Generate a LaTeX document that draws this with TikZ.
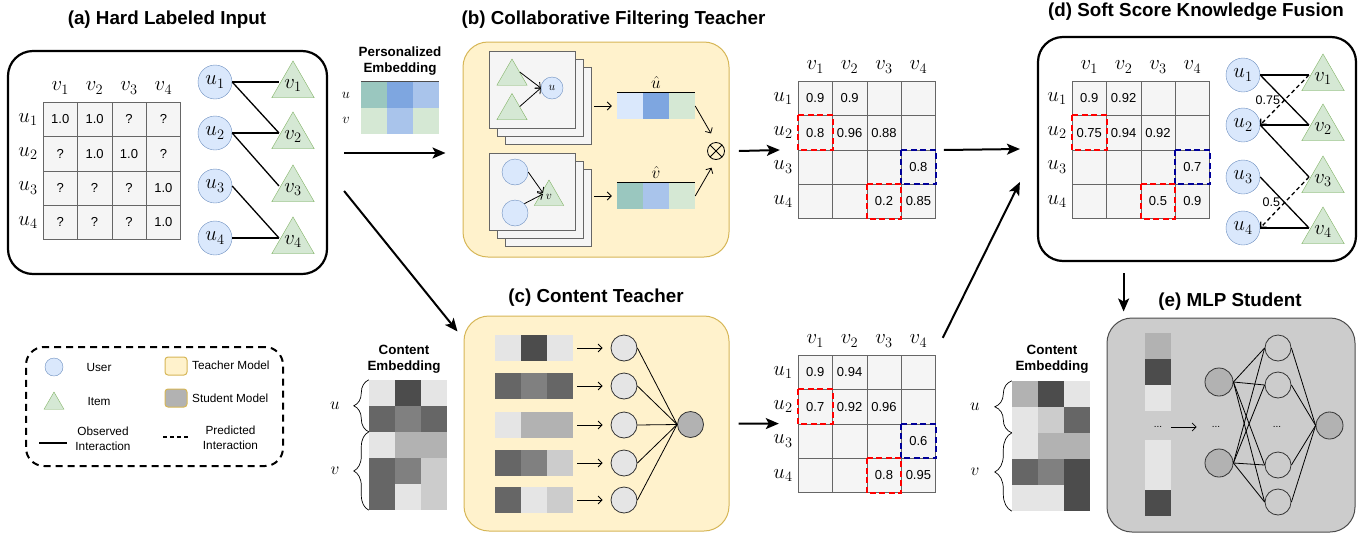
\documentclass[tikz,border=0pt]{standalone}
\usepackage[no-math]{fontspec}
\setmainfont{Liberation Sans}
\usetikzlibrary{shapes.geometric, arrows.meta, calc, decorations.pathreplacing}

\definecolor{userfill}{HTML}{DAE8FC}
\definecolor{userline}{HTML}{6C8EBF}
\definecolor{itemfill}{HTML}{D5E8D4}
\definecolor{itemline}{HTML}{82B366}
\definecolor{teachfill}{HTML}{FFF2CC}
\definecolor{teachline}{HTML}{D6B656}
\definecolor{cellfill}{HTML}{F5F5F5}
\definecolor{cellline}{HTML}{666666}
\definecolor{hlred}{HTML}{FF0000}
\definecolor{hlblue}{HTML}{000099}
\definecolor{embteal}{HTML}{9AC7BF}
\definecolor{embblue}{HTML}{7EA6E0}
\definecolor{emblight}{HTML}{A9C4EB}

\newcommand{\pxsize}[2]{\fontsize{#1}{#2}\selectfont}

% 4x4 score grid: name, left, top, values row by row
\newcommand{\scoregrid}[4]{%
  \foreach \val [count=\k from 0] in {#4} {
    \pgfmathtruncatemacro{\ri}{div(\k,4)+1}
    \pgfmathtruncatemacro{\ci}{mod(\k,4)+1}
    \node[cell] (#1-\ri-\ci) at ({#2+34.4*\ci-17.2},{#3+34.4*\ri-17.2}) {\val};
  }
  \foreach \i in {1,...,4} {
    \node[mlabel] (#1-v\i) at ({#2+34.4*\i-17.2},{#3-14}) {$v_\i$};
    \node[mlabel] (#1-u\i) at ({#2-15},{#3+34.4*\i-17.2}) {$u_\i$};
  }
}
% one row of embedding cells: left, top, colours
\newcommand{\embstrip}[3]{%
  \foreach \col [count=\j from 0] in {#3}
    \fill[fill=\col] ({#1+26*\j},{#2}) rectangle ++(26,26);
}

\begin{document}
\begin{tikzpicture}[x=1pt, y=-1pt,
    title/.style={font=\bfseries\pxsize{18.8}{20}},
    head/.style={font=\bfseries\pxsize{13.4}{16.5}, align=center, inner sep=0pt},
    mlabel/.style={font=\pxsize{19.5}{19.5}, inner sep=0pt},
    cell/.style={draw=cellline, fill=cellfill, minimum size=34.4pt, inner sep=0pt, font=\pxsize{13}{13}},
    user/.style={circle, draw=userline, fill=userfill, minimum size=34pt, inner sep=0pt, font=\pxsize{19.5}{19.5}},
    item/.style={regular polygon, regular polygon sides=3, draw=itemline, fill=itemfill, minimum size=46.5pt, inner sep=0pt, font=\pxsize{19.5}{19.5}},
    panel/.style={draw, line width=2.2pt, rounded corners=25pt},
    teacher/.style={draw=teachline, fill=teachfill, line width=1pt, rounded corners=25pt},
    card/.style={draw=cellline, fill=cellfill, line width=0.8pt, minimum width=86pt, minimum height=77pt},
    neuron/.style={circle, draw=black!80, line width=0.8pt, minimum size=26pt, inner sep=0pt},
    vecbox/.style={minimum width=78pt, minimum height=26pt, inner sep=0pt},
    link/.style={line width=1.3pt},
    pred/.style={line width=1.3pt, dash pattern=on 4pt off 3pt, -{Straight Barb[length=4pt,width=8pt]}},
    flow/.style={line width=0.8pt, -{Straight Barb[length=4pt,width=8pt]}},
    bigflow/.style={line width=2pt, -{Stealth[length=13pt,width=11pt,inset=3pt]}},
    redbox/.style={draw=hlred, line width=2pt, dash pattern=on 6pt off 3.5pt},
    bluebox/.style={draw=hlblue, line width=2pt, dash pattern=on 6pt off 3.5pt},
    brace/.style={decorate, decoration={brace, amplitude=15pt}, line width=0.7pt},
    legend/.style={font=\pxsize{11.8}{15}, align=center, inner sep=0pt},
    dots/.style={font=\pxsize{10}{10}, inner sep=1pt}]
\useasboundingbox (0,0) rectangle (1372,536);

%% (a) hard labels
\node[title] (ta) at (167,20) {(a) Hard Labeled Input};
\node[panel, minimum width=319pt, minimum height=223pt] (pa) at (167.5,162.5) {};
\scoregrid{hd}{43}{102}{1.0,1.0,?,?,?,1.0,1.0,?,?,?,?,1.0,?,?,?,1.0}
\foreach \i/\y in {1/82,2/133,3/186,4/238} {
  \node[user] (au\i) at (215,\y) {$u_\i$};
  \node[item] (av\i) at (293,\y+3.5) {$v_\i$};
}
\foreach \u/\v in {1/1,1/2,2/2,2/3,3/4,4/4}
  \draw[link] (au\u.east) -- ([xshift=-14pt,yshift=3.5pt]av\v.center);

%% personalized embedding
\node[head] (pt) at (400,61) {Personalized\\Embedding};
\embstrip{361}{82}{embteal,embblue,emblight}
\embstrip{361}{108}{itemfill,emblight,itemfill}
\node[vecbox, minimum height=52pt] (pemb) at (400,108) {};
\draw[black!70, line width=0.8pt] (pemb.north west) -- (pemb.north east);
\node[mlabel, font=\pxsize{15.5}{15.5}] (pu) at (346,95) {$u$};
\node[mlabel, font=\pxsize{15.5}{15.5}] (pv) at (346,120) {$v$};

%% (b) CF teacher
\node[title] (tb) at (613.5,20) {(b) Collaborative Filtering Teacher};
\node[teacher, minimum width=266pt, minimum height=215pt] (pb) at (596,149.5) {};
\foreach \k in {3,2,1} {
  \node[card] (ucard\k) at ({524+8*\k},{81.5+8*\k}) {};
  \node[card] (vcard\k) at ({524+8*\k},{184+8*\k}) {};
}
\node[item, minimum size=35pt] (ut1) at (512,76.5) {};
\node[item, minimum size=35pt] (ut2) at (512,111) {};
\node[user, minimum size=22pt, font=\pxsize{12.5}{12.5}] (uc) at (552,88) {$u$};
\draw[flow] (ut1.side 3) -- (uc.west);
\draw[flow] (ut2.side 3) -- (uc.west);
\node[user, minimum size=26pt] (vc1) at (515,172) {};
\node[user, minimum size=26pt] (vc2) at (515,213) {};
\node[item, minimum size=34pt, font=\pxsize{12.5}{12.5}] (vt) at (549,197) {$v$};
\draw[flow] (vc1.east) -- ([xshift=-6pt,yshift=4pt]vt.center);
\draw[flow] (vc2.45) -- ([xshift=-6pt,yshift=3pt]vt.center);

\node[mlabel, font=\pxsize{16}{16}] (uhl) at (656,82) {$\hat{u}$};
\embstrip{617}{93}{userfill,embblue,itemfill}
\node[vecbox] (uhat) at (656,106) {};
\draw[line width=0.8pt] (uhat.north west) -- (uhat.north east);
\node[mlabel, font=\pxsize{16}{16}] (vhl) at (656,172) {$\hat{v}$};
\embstrip{617}{183}{embteal,emblight,itemfill}
\node[vecbox] (vhat) at (656,196) {};
\draw[line width=0.8pt] (vhat.north west) -- (vhat.north east);
\draw[flow, shorten <=3pt, shorten >=5pt] (ucard3.east |- uhat.west) -- (uhat.west);
\draw[flow, shorten <=3pt, shorten >=5pt] (vcard3.east |- vhat.west) -- (vhat.west);

\node[circle, draw, line width=0.8pt, minimum size=17pt, inner sep=0pt,
  path picture={\draw (path picture bounding box.north west) -- (path picture bounding box.south east)
                      (path picture bounding box.north east) -- (path picture bounding box.south west);}] (mul) at (716,151) {};
\draw[flow, shorten >=10pt] (uhat.east) -- (mul.north);
\draw[flow, shorten >=9pt] (vhat.east) -- (mul.south);

%% CF scores
\scoregrid{cf}{798}{81}{0.9,0.9,{},{},0.8,0.96,0.88,{},{},{},{},0.8,{},{},0.2,0.85}
\draw[redbox] (cf-2-1.north west) rectangle (cf-2-1.south east);
\draw[bluebox] (cf-3-4.north west) rectangle (cf-3-4.south east);
\draw[redbox] (cf-4-3.north west) rectangle (cf-4-3.south east);

%% legend
\node[draw, line width=2pt, dash pattern=on 7pt off 5pt, rounded corners=18pt, minimum width=257pt, minimum height=119pt] (lg) at (154.5,406.5) {};
\node[user, minimum size=18pt] (lgu) at (54,367) {};
\node[legend] (lgut) at (99,367) {User};
\node[item, minimum size=23pt] (lgi) at (54,403.5) {};
\node[legend] (lgit) at (99,401) {Item};
\draw[line width=1.3pt] (39,443) -- (67,443);
\node[legend] (lgo) at (103,438.5) {Observed\\Interaction};
\node[teacher, rounded corners=3pt, minimum width=22pt, minimum height=18pt] (lgt) at (176,366) {};
\node[legend, anchor=west] (lgtt) at (192,365) {Teacher Model};
\node[draw=teachline, fill=black!30, line width=1pt, rounded corners=3pt, minimum width=22pt, minimum height=18pt] (lgs) at (176,398) {};
\node[legend, anchor=west] (lgst) at (192,398) {Student Model};
\draw[line width=1.3pt, dash pattern=on 4pt off 3pt] (163,437) -- (189,437);
\node[legend] (lgp) at (230.5,438) {Predicted\\Interaction};

%% content embedding, teacher side
\node[head] (cet) at (404,359) {Content\\Embedding};
\embstrip{369}{380}{black!10,black!70,black!10}
\embstrip{369}{406}{black!60,black!50,black!60}
\embstrip{369}{432}{black!10,black!30,black!30}
\embstrip{369}{458}{black!60,black!50,black!20}
\embstrip{369}{484}{black!60,black!10,black!20}
\node[vecbox, minimum height=130pt] (cemb) at (408,445) {};
\draw[brace] ([yshift=-52pt]cemb.north west) -- (cemb.north west);
\draw[brace] (cemb.south west) -- ([yshift=-52pt]cemb.north west);
\node[mlabel, font=\pxsize{16}{16}] (ceu) at (335,406) {$u$};
\node[mlabel, font=\pxsize{16}{16}] (cev) at (335,471) {$v$};

%% (c) content teacher
\node[title] (tc) at (596,298) {(c) Content Teacher};
\node[teacher, minimum width=265pt, minimum height=215pt] (pc) at (596.5,423.5) {};
\embstrip{495}{335}{black!10,black!70,black!10}
\embstrip{495}{373}{black!60,black!50,black!60}
\embstrip{495}{412}{black!10,black!30,black!30}
\embstrip{495}{450}{black!60,black!50,black!20}
\embstrip{495}{487}{black!60,black!10,black!20}
\node[neuron, fill=black!30] (cout) at (690.5,424.5) {};
\foreach \k/\y in {1/348,2/386,3/425,4/463,5/500} {
  \node[vecbox] (bar\k) at (534,\y) {};
  \node[neuron, fill=black!10] (cn\k) at (624,\y) {};
  \draw[flow, shorten <=4pt, shorten >=8pt] (bar\k.east) -- (cn\k.west);
  \draw[line width=0.8pt] (cn\k.east) -- (cout.west);
}

%% content scores
\scoregrid{ct}{798}{355}{0.9,0.94,{},{},0.7,0.92,0.96,{},{},{},{},0.6,{},{},0.8,0.95}
\draw[redbox] (ct-2-1.north west) rectangle (ct-2-1.south east);
\draw[bluebox] (ct-3-4.north west) rectangle (ct-3-4.south east);
\draw[redbox] (ct-4-3.north west) rectangle (ct-4-3.south east);

%% (d) fusion
\node[title] (td) at (1196,12) {(d) Soft Score Knowledge Fusion};
\node[panel, minimum width=318pt, minimum height=224pt] (pd) at (1197,149) {};
\scoregrid{fd}{1072}{81}{0.9,0.92,{},{},0.75,0.94,0.92,{},{},{},{},0.7,{},{},0.5,0.9}
\draw[redbox] (fd-2-1.north west) rectangle (fd-2-1.south east);
\draw[bluebox] (fd-3-4.north west) rectangle (fd-3-4.south east);
\draw[redbox] (fd-4-3.north west) rectangle (fd-4-3.south east);
\foreach \i/\y in {1/75,2/125,3/177,4/228} {
  \node[user] (du\i) at (1243,\y) {$u_\i$};
  \node[item] (dv\i) at (1323,\y+3.5) {$v_\i$};
}
\foreach \u/\v in {1/1,1/2,2/2,2/3,3/4,4/4}
  \draw[link] (du\u.east) -- ([xshift=-14pt,yshift=3.5pt]dv\v.center);
\draw[pred] ([xshift=-14pt,yshift=3.5pt]dv1.center) -- node[pos=0.5, left=4pt, font=\pxsize{12.5}{12.5}, inner sep=0pt] (dw12) {0.75} (du2.east);
\draw[pred] ([xshift=-14pt,yshift=3.5pt]dv3.center) -- node[pos=0.5, left=4pt, font=\pxsize{12.5}{12.5}, inner sep=0pt] (dw34) {0.5} (du4.east);

%% content embedding, student side
\node[head] (cet2) at (1052,359) {Content\\Embedding};
\embstrip{1012}{381}{black!30,black!70,black!10}
\embstrip{1012}{407}{black!10,black!20,black!60}
\embstrip{1012}{433}{black!10,black!30,black!30}
\embstrip{1012}{459}{black!60,black!50,black!70}
\embstrip{1012}{485}{black!10,black!10,black!70}
\node[vecbox, minimum height=130pt] (cemb2) at (1051,446) {};
\draw[brace, decoration={amplitude=17pt}] ([yshift=-52pt]cemb2.north west) -- (cemb2.north west);
\draw[brace, decoration={amplitude=17pt}] (cemb2.south west) -- ([yshift=-52pt]cemb2.north west);
\node[mlabel, font=\pxsize{16}{16}] (ceu2) at (975,407) {$u$};
\node[mlabel, font=\pxsize{16}{16}] (cev2) at (975,472) {$v$};

%% (e) MLP student
\node[title] (te) at (1230,302) {(e) MLP Student};
\node[draw=black!70, fill=black!20, line width=1pt, rounded corners=25pt, minimum width=248pt, minimum height=214pt] (pe) at (1231,425) {};
\fill[black!30] (1145,333) rectangle (1171,359);
\fill[black!70] (1145,359) rectangle (1171,385);
\fill[black!10] (1145,385) rectangle (1171,411);
\fill[black!10] (1145,440) rectangle (1171,490);
\fill[black!70] (1145,490) rectangle (1171,516);
\node[dots] (sdots) at (1158,427) {...};
\node[dots] (hdots) at (1216,427) {...};
\node[dots] (odots) at (1277,427) {...};
\draw[flow, shorten <=8pt, shorten >=14pt] (sdots.east) -- (hdots.west);
\node[neuron, fill=black!30, minimum size=28pt] (ha) at (1219,382) {};
\node[neuron, fill=black!30, minimum size=28pt] (hb) at (1219,463) {};
\node[neuron, fill=black!30, minimum size=27pt] (sout) at (1329.5,425.5) {};
\foreach \k/\y in {1/348,2/385,3/465,4/502} {
  \node[neuron] (g\k) at (1278,\y) {};
  \draw[line width=0.8pt] (ha.east) -- (g\k.west);
  \draw[line width=0.8pt] (hb.east) -- (g\k.west);
  \draw[line width=0.8pt] (g\k.east) -- (sout.west);
}

%% flow between panels
\draw[bigflow] ([xshift=16pt,yshift=9.5pt]pa.east) -- ([xshift=-17pt,yshift=-3.5pt]pb.west);
\draw[bigflow] ([xshift=16pt,yshift=-28.5pt]pa.east) -- ([xshift=-6pt,yshift=-16pt]pc.north west);
\draw[bigflow] ([xshift=14pt]mul.east) -- ([xshift=-18pt]cf-2-1.south west);
\draw[bigflow] ([xshift=9pt]pc.east) -- ([xshift=-19pt]ct-3-1.north west);
\draw[bigflow] ([xshift=8pt]cf-2-4.south east) -- ([xshift=-17pt]pd.west);
\draw[bigflow] ([xshift=7pt,yshift=17pt]ct-1-4.north east) -- ([xshift=-17pt,yshift=-33pt]pd.west);
\draw[bigflow] ($(fd-4-2.south |- pd.south)+(0,11)$) -- ($(fd-4-2.south |- pe.north)+(0,-6)$);
\end{tikzpicture}
\end{document}
